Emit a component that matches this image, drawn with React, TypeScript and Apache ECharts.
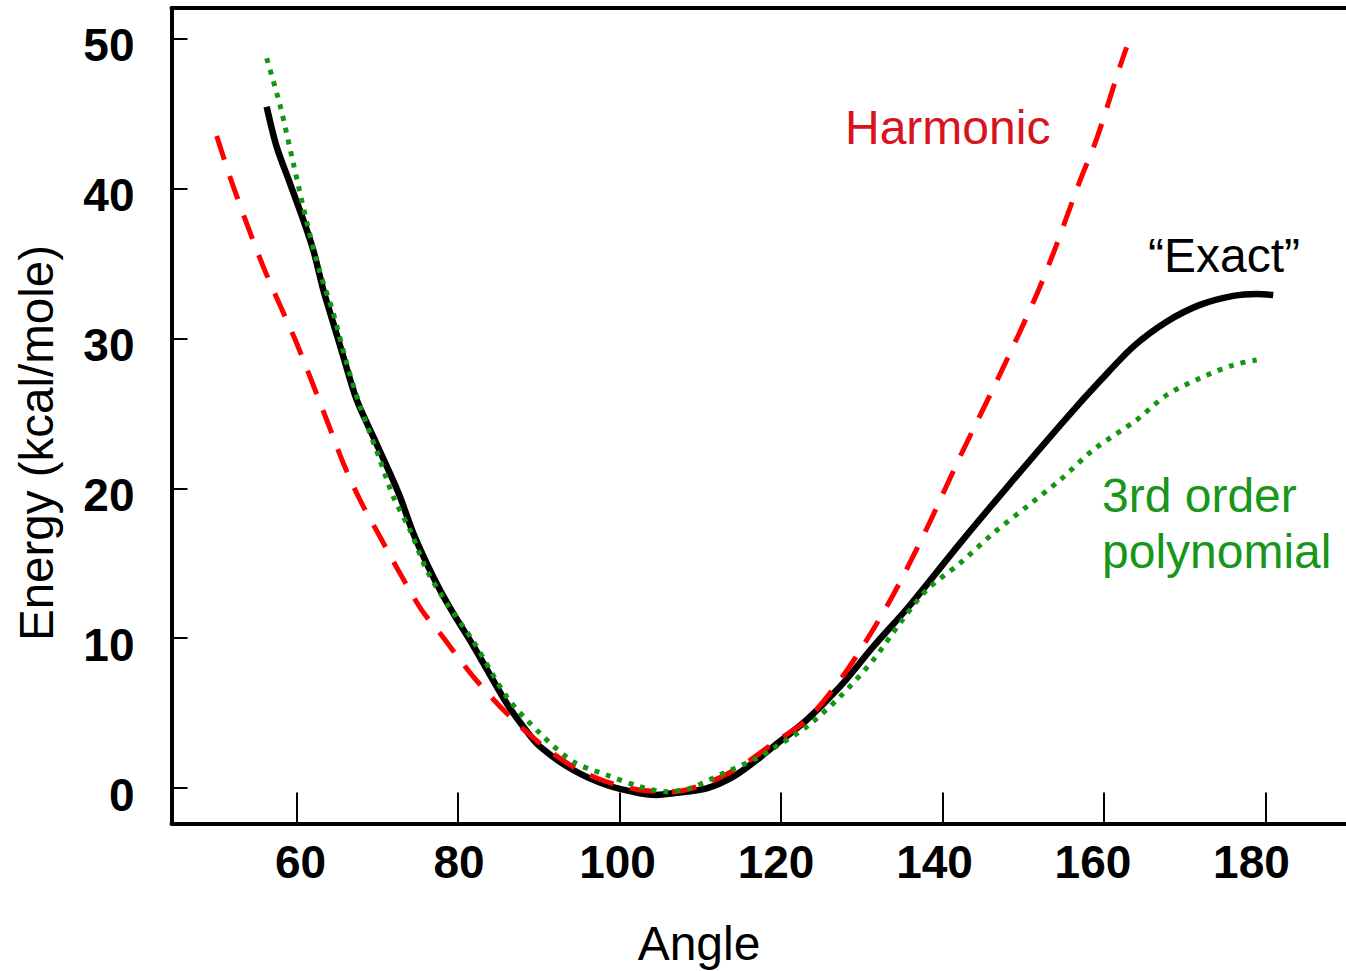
import React, { useEffect, useRef } from "react";
import * as echarts from "echarts";

// Axis ticks
const angleTicks = [60, 80, 100, 120, 140, 160, 180];
const energyTicks = [0, 10, 20, 30, 40, 50];

// "Exact" curve (black)
const exactAngle = [56.26, 57.5, 59.15, 60.8, 62.04, 63.28, 64.52, 65.76, 67.42, 69.47, 71.54, 72.78, 74.43, 76.09, 77.74, 79.39, 81.86, 86.0, 88.06, 90.13, 94.25, 98.39, 102.52, 104.59, 106.64, 110.78, 114.08, 116.98, 119.03, 123.17, 127.3, 131.42, 135.97, 142.17, 148.36, 155.39, 159.51, 163.64, 167.78, 171.9, 176.03, 178.93, 180.98];
const exactEnergy = [45.45, 42.78, 40.34, 37.9, 35.89, 33.23, 31.01, 28.78, 25.89, 23.44, 21.0, 19.44, 17.0, 15.0, 13.22, 11.66, 9.5, 5.66, 4.1, 2.77, 1.21, 0.21, -0.34, -0.45, -0.34, -0.01, 0.77, 1.88, 2.77, 4.55, 6.77, 9.44, 12.2, 16.33, 20.3, 24.7, 27.15, 29.45, 31.11, 32.23, 32.83, 32.96, 32.89];

// Harmonic curve (red dashed)
const harmonicAngle = [50.07, 52.13, 55.84, 59.98, 63.7, 65.76, 67.83, 70.3, 72.78, 75.47, 77.74, 81.86, 86.0, 90.13, 94.25, 98.39, 102.52, 106.64, 110.78, 114.91, 119.03, 123.17, 127.3, 130.61, 133.9, 138.04, 142.17, 147.12, 151.25, 153.73, 157.03, 159.1, 161.99, 162.82];
const harmonicEnergy = [43.5, 40.12, 34.78, 29.67, 24.56, 21.67, 19.22, 16.77, 14.33, 11.88, 10.33, 7.44, 5.0, 2.99, 1.43, 0.43, -0.12, -0.23, 0.33, 1.43, 2.99, 4.55, 7.22, 9.88, 12.9, 17.3, 22.1, 27.6, 32.4, 35.67, 40.5, 43.3, 48.12, 49.41];

// 3rd order polynomial (green dotted)
const polyAngle = [56.26, 57.91, 59.56, 61.22, 62.87, 64.52, 66.18, 67.83, 70.3, 71.95, 74.02, 76.09, 78.57, 81.86, 86.0, 90.13, 94.25, 98.39, 102.52, 105.83, 108.71, 112.84, 116.98, 119.03, 123.17, 127.3, 131.42, 134.73, 138.04, 142.17, 146.29, 150.43, 154.56, 158.68, 164.06, 167.78, 171.9, 176.03, 178.93];
const polyEnergy = [48.68, 45.56, 41.68, 37.78, 34.4, 31.67, 28.34, 25.5, 21.89, 19.44, 17.22, 14.55, 12.33, 9.8, 6.1, 3.66, 1.77, 0.88, 0.1, -0.23, -0.01, 0.99, 1.99, 2.66, 4.1, 6.1, 8.55, 11.0, 13.22, 15.0, 17.0, 18.77, 20.55, 22.56, 24.56, 26.22, 27.34, 28.22, 28.56];

const FONT = "'Liberation Sans', Arial, Helvetica, sans-serif";

function pairs(a: number[], b: number[]) {
  return a.map((v, i) => [v, b[i]]);
}

export default function App() {
  const ref = useRef<HTMLDivElement>(null);

  useEffect(() => {
    if (!ref.current) return;
    const chart = echarts.init(ref.current, null, { renderer: "svg" });
    const blank = { show: false };
    chart.setOption({
      animation: false,
      backgroundColor: "#ffffff",
      grid: { left: 171.5, right: 0, top: 8, bottom: 147.5, containLabel: false },
      xAxis: [
        {
          type: "value",
          position: "bottom",
          min: 44.47,
          max: 190,
          axisLine: { show: true, onZero: false, lineStyle: { color: "#000", width: 4 } },
          axisTick: { show: true, inside: true, length: 31, customValues: angleTicks, lineStyle: { color: "#000", width: 2 } },
          axisLabel: blank,
          splitLine: blank,
        },
        {
          type: "value",
          position: "bottom",
          min: 43.71,
          max: 191.93,
          axisLine: { show: false, onZero: false },
          axisTick: blank,
          axisLabel: {
            show: true,
            customValues: angleTicks,
            margin: 15,
            fontSize: 46,
            fontWeight: "bold",
            color: "#000",
            fontFamily: FONT,
          },
          splitLine: blank,
        },
        {
          type: "value",
          position: "top",
          min: 0,
          max: 1,
          axisLine: { show: true, onZero: false, lineStyle: { color: "#000", width: 4 } },
          axisTick: blank,
          axisLabel: blank,
          splitLine: blank,
        },
      ],
      yAxis: [
        {
          type: "value",
          position: "left",
          min: -2.354,
          max: 52.03,
          axisLine: { show: true, onZero: false, lineStyle: { color: "#000", width: 4 } },
          axisTick: { show: true, inside: true, length: 16, customValues: energyTicks, lineStyle: { color: "#000", width: 2 } },
          axisLabel: blank,
          splitLine: blank,
        },
        {
          type: "value",
          position: "left",
          min: -1.887,
          max: 52.5,
          axisLine: { show: false, onZero: false },
          axisTick: blank,
          axisLabel: {
            show: true,
            customValues: energyTicks,
            margin: 37,
            fontSize: 46,
            fontWeight: "bold",
            color: "#000",
            fontFamily: FONT,
          },
          splitLine: blank,
        },
      ],
      series: [
        {
          name: "Exact",
          type: "line",
          xAxisIndex: 0,
          yAxisIndex: 0,
          data: pairs(exactAngle, exactEnergy),
          showSymbol: false,
          symbol: "none",
          smooth: 0.3,
          lineStyle: { color: "#000000", width: 6.5, cap: "butt" },
          z: 2,
        },
        {
          name: "Harmonic",
          type: "line",
          xAxisIndex: 0,
          yAxisIndex: 0,
          data: pairs(harmonicAngle, harmonicEnergy),
          showSymbol: false,
          symbol: "none",
          smooth: 0.3,
          lineStyle: { color: "#ff0000", width: 5, type: [25, 17], cap: "butt" },
          z: 3,
        },
        {
          name: "3rd order polynomial",
          type: "line",
          xAxisIndex: 0,
          yAxisIndex: 0,
          data: pairs(polyAngle, polyEnergy),
          showSymbol: false,
          symbol: "none",
          smooth: 0.3,
          lineStyle: { color: "#139613", width: 5, type: [5, 7], cap: "butt" },
          z: 4,
        },
      ],
      graphic: [
        {
          type: "text",
          x: 845,
          y: 127.4,
          style: { text: "Harmonic", fill: "#d7141e", fontSize: 48, fontFamily: FONT, align: "left", verticalAlign: "middle" },
        },
        {
          type: "text",
          x: 1148,
          y: 255.4,
          style: { text: "\u201cExact\u201d", fill: "#000000", fontSize: 48, fontFamily: FONT, align: "left", verticalAlign: "middle" },
        },
        {
          type: "text",
          x: 1102,
          y: 495.4,
          style: { text: "3rd order", fill: "#18961a", fontSize: 48, fontFamily: FONT, align: "left", verticalAlign: "middle" },
        },
        {
          type: "text",
          x: 1102,
          y: 551.4,
          style: { text: "polynomial", fill: "#18961a", fontSize: 48, fontFamily: FONT, align: "left", verticalAlign: "middle" },
        },
        {
          type: "text",
          x: 699,
          y: 943.4,
          style: { text: "Angle", fill: "#000000", fontSize: 48, fontFamily: FONT, align: "center", verticalAlign: "middle" },
        },
        {
          type: "text",
          x: 36.7,
          y: 443,
          rotation: Math.PI / 2,
          style: { text: "Energy (kcal/mole)", fill: "#000000", fontSize: 47.5, fontFamily: FONT, align: "center", verticalAlign: "middle" },
        },
      ],
    });
    return () => {
      chart.dispose();
    };
  }, []);

  return (
    <div
      ref={ref}
      style={{ position: "fixed", left: 0, top: 0, width: 1346, height: 971, background: "#fff" }}
    />
  );
}
